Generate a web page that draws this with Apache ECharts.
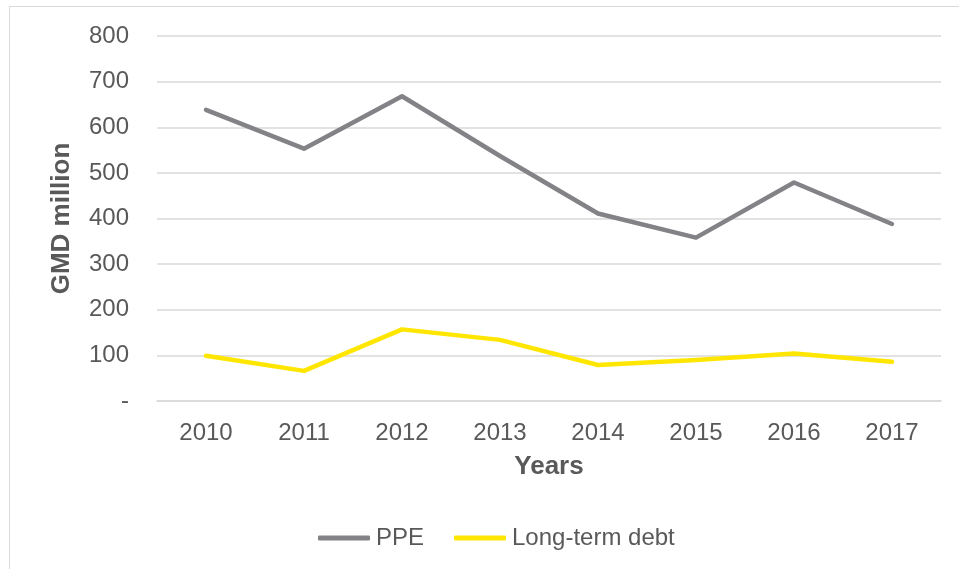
<!DOCTYPE html>
<html>
<head>
<meta charset="utf-8">
<script src="https://cdn.jsdelivr.net/npm/echarts@6/dist/echarts.min.js"></script>
<style>
  html, body { margin: 0; padding: 0; background: #ffffff; }
  #chart { width: 959px; height: 569px; }
</style>
</head>
<body>
<div id="chart"></div>
<script>
// Years on the category axis
const years = ['2010', '2011', '2012', '2013', '2014', '2015', '2016', '2017'];
// Property, plant and equipment (GMD million)
const ppe = [638, 553, 668, 537, 411, 358, 479, 388];
// Long-term debt (GMD million)
const longTermDebt = [99, 66, 157, 134, 79, 90, 104, 86];
// Value-axis ticks
const yTicks = [0, 100, 200, 300, 400, 500, 600, 700, 800];

const textColor = '#595959';
const fontFamily = 'Liberation Sans, Arial, sans-serif';

const chart = echarts.init(document.getElementById('chart'), null, { renderer: 'canvas' });

chart.setOption({
  backgroundColor: '#ffffff',
  animation: false,
  textStyle: { fontFamily: fontFamily, color: textColor },
  graphic: [{
    type: 'rect',
    shape: { x: 9.5, y: 6.5, width: 1000, height: 700 },
    style: { fill: 'none', stroke: '#d9d9d9', lineWidth: 1 },
    silent: true,
    z: -10
  }],
  grid: { left: 157, right: 18, top: 36, bottom: 168, containLabel: false },
  legend: {
    bottom: 14,
    left: 313,
    itemWidth: 52,
    itemHeight: 5,
    itemGap: 30,
    icon: 'roundRect',
    textStyle: { fontSize: 24, color: textColor, fontFamily: fontFamily, padding: [0, 0, 0, 1] },
    data: ['PPE', 'Long-term debt']
  },
  xAxis: {
    type: 'category',
    data: years,
    boundaryGap: true,
    name: 'Years',
    nameLocation: 'middle',
    nameGap: 53,
    nameTextStyle: { fontSize: 26, fontWeight: 'bold', color: textColor, fontFamily: fontFamily },
    axisLine: { show: true, lineStyle: { color: '#d9d9d9', width: 1.5 } },
    axisTick: { show: false },
    axisLabel: { margin: 20, fontSize: 24, color: textColor, fontFamily: fontFamily }
  },
  yAxis: {
    type: 'value',
    min: yTicks[0],
    max: yTicks[yTicks.length - 1],
    interval: yTicks[1] - yTicks[0],
    name: 'GMD million',
    nameLocation: 'middle',
    nameGap: 82,
    nameRotate: 90,
    nameTextStyle: { fontSize: 26, fontWeight: 'bold', color: textColor, fontFamily: fontFamily },
    axisLine: { show: false },
    axisTick: { show: false },
    splitLine: { show: true, lineStyle: { color: '#d9d9d9', width: 1.5 } },
    axisLabel: {
      margin: 28,
      fontSize: 24,
      color: textColor,
      fontFamily: fontFamily,
      formatter: function (v) { return v === 0 ? '-' : String(v); }
    }
  },
  series: [
    {
      name: 'PPE',
      type: 'line',
      data: ppe,
      symbol: 'none',
      lineStyle: { color: '#838287', width: 4.5, cap: 'round', join: 'round' },
      itemStyle: { color: '#838287' }
    },
    {
      name: 'Long-term debt',
      type: 'line',
      data: longTermDebt,
      symbol: 'none',
      lineStyle: { color: '#ffe600', width: 4.5, cap: 'round', join: 'round' },
      itemStyle: { color: '#ffe600' }
    }
  ]
});
</script>
</body>
</html>
